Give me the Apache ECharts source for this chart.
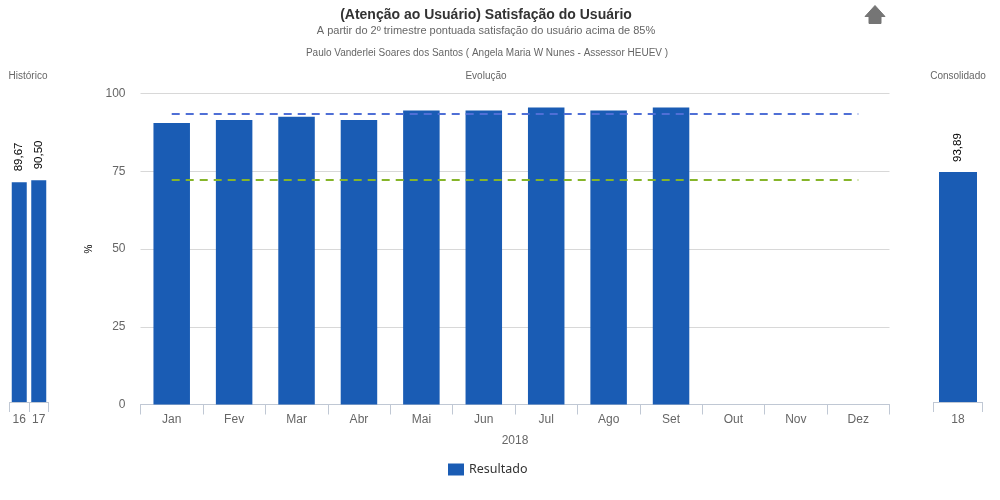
<!DOCTYPE html>
<html><head><meta charset="utf-8">
<style>html,body{margin:0;padding:0;background:#fff}#c{width:1000px;height:500px}</style>
<script src="https://cdn.jsdelivr.net/npm/echarts@6/dist/echarts.min.js"></script>
</head><body><div id="c"></div>
<script>
const months = ['Jan','Fev','Mar','Abr','Mai','Jun','Jul','Ago','Set','Out','Nov','Dez'];
const resultado = [90.5,91.5,92.5,91.5,94.5,94.5,95.5,94.5,95.5,null,null,null];
const metaAzul = [93.4,93.4,93.4,93.4,93.4,93.4,93.4,93.4,93.4,93.4,93.4,93.4];
const metaVerde = [72.2,72.2,72.2,72.2,72.2,72.2,72.2,72.2,72.2,72.2,72.2,72.2];
const anosHist = ['16','17'];
const valoresHist = [89.67,90.50];
const anosCons = ['18'];
const valoresCons = [93.89];

const FONT = '"Liberation Sans", Arial, sans-serif';
const BLUE = '#1a5cb4';
const GRAY = '#666666';
const AXIS = '#c0c8d4';
const fmt = v => v.toFixed(2).replace('.', ',');

const catAxis = (data, idx, margin, extra) => Object.assign({
  type:'category', gridIndex:idx, data,
  axisLine:{show:true,lineStyle:{color:AXIS,width:1}},
  axisTick:{show:true,alignWithLabel:false,length:10,lineStyle:{color:AXIS,width:1}},
  axisLabel:{color:GRAY,fontSize:12,fontFamily:FONT,margin,interval:0},
  splitLine:{show:false}
}, extra||{});
const hiddenY = idx => ({type:'value',gridIndex:idx,min:0,max:100,show:false});
const sideBar = (name,data,idx,w,dx) => ({
  name,type:'bar',xAxisIndex:idx,yAxisIndex:idx,data,barWidth:w,
  itemStyle:{color:BLUE},silent:true,
  label:{show:true,position:'top',rotate:90,distance:9,offset:[dx,0],color:'#000',fontSize:11.5,fontFamily:FONT,
    align:'left',verticalAlign:'middle',formatter:p=>fmt(p.value)}
});
const smallTitle = (text,left,top) => ({text,left,top,textAlign:'center',padding:0,
  textStyle:{fontSize:10,fontWeight:'normal',color:'#666',fontFamily:FONT}});

const chart = echarts.init(document.getElementById('c'),null,{renderer:'canvas'});
chart.setOption({
  animation:false,
  backgroundColor:'#fff',
  textStyle:{fontFamily:FONT},
  title:[
    {text:'(Atenção ao Usuário) Satisfação do Usuário',left:486,top:8,textAlign:'center',padding:0,
     textStyle:{fontSize:14,fontWeight:'bold',color:'#333',fontFamily:FONT}},
    {text:'A partir do 2º trimestre pontuada satisfação do usuário acima de 85%',left:486,top:25,textAlign:'center',padding:0,
     textStyle:{fontSize:11,fontWeight:'normal',color:GRAY,fontFamily:FONT}},
    smallTitle('Paulo Vanderlei Soares dos Santos ( Angela Maria W Nunes - Assessor HEUEV )',487,48),
    smallTitle('Evolução',486,71),
    smallTitle('Histórico',28,71),
    smallTitle('Consolidado',958,71)
  ],
  legend:{data:['Resultado'],left:448,top:463,padding:0,itemWidth:16,itemHeight:12,itemGap:5,icon:'rect',
    textStyle:{color:'#333',fontSize:12.5,fontFamily:'"Noto Sans"',padding:[4,0,0,0]},selectedMode:false},
  grid:[
    {left:140.5,width:749,top:93.5,height:311},
    {left:9.5,width:39,top:157,height:245},
    {left:933.5,width:49,top:157,height:245}
  ],
  xAxis:[
    catAxis(months,0,9,{name:'2018',nameLocation:'middle',nameGap:30,nameTextStyle:{color:GRAY,fontSize:12,fontFamily:FONT}}),
    catAxis(anosHist,1,12),
    catAxis(anosCons,2,12)
  ],
  yAxis:[
    {type:'value',gridIndex:0,min:0,max:100,interval:25,
     name:'%',nameLocation:'middle',nameGap:45,nameRotate:90,
     nameTextStyle:{color:'#000',fontSize:10,fontFamily:FONT},
     axisLine:{show:false},axisTick:{show:false},
     axisLabel:{color:GRAY,fontSize:12,fontFamily:FONT,margin:15},
     splitLine:{show:true,lineStyle:{color:'#d8d8d8',width:1}}},
    hiddenY(1),hiddenY(2)
  ],
  series:[
    {name:'Resultado',type:'bar',data:resultado,barWidth:36.5,itemStyle:{color:BLUE},xAxisIndex:0,yAxisIndex:0},
    {name:'Meta',type:'line',data:metaAzul,showSymbol:false,z:5,lineStyle:{color:'#4f6fd6',width:2,type:[8,6]},xAxisIndex:0,yAxisIndex:0},
    {name:'Referencia',type:'line',data:metaVerde,showSymbol:false,z:5,lineStyle:{color:'#86b52a',width:2,type:[8,6]},xAxisIndex:0,yAxisIndex:0},
    sideBar('Histórico',valoresHist,1,15,2),
    sideBar('Consolidado',valoresCons,2,38,1)
  ],
  graphic:[{type:'polygon',silent:true,
    shape:{points:[[875,5.5],[885,16.5],[881,16.5],[881,23.5],[869,23.5],[869,16.5],[865,16.5]]},
    style:{fill:'#757575',stroke:'#757575',lineJoin:'round',lineWidth:1}}]
});
</script></body></html>
